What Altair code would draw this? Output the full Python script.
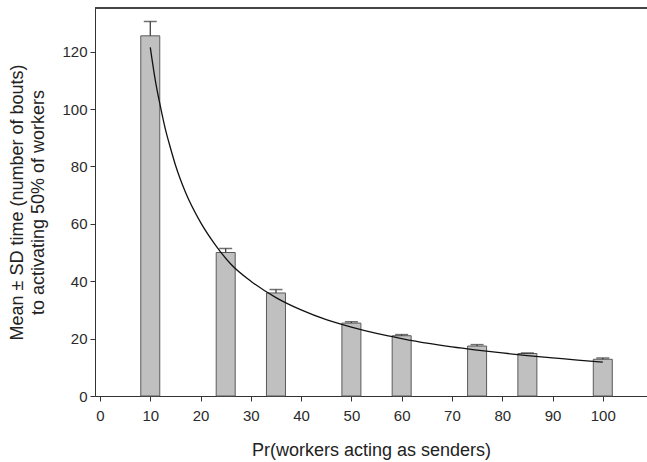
import altair as alt
import pandas as pd

# Bar data
senders = [10, 25, 35, 50, 60, 75, 85, 100]
mean_time = [125.5, 50.0, 35.9, 25.4, 21.0, 17.4, 14.8, 12.8]
sd_time = [5.0, 1.4, 1.2, 0.5, 0.4, 0.5, 0.2, 0.4]

# Fitted curve
curve_x = [10, 11, 12, 13, 14, 15, 17, 20, 23, 26, 30, 35, 40, 45, 50, 55, 60, 65, 70, 75, 80, 85, 90, 95, 100]
curve_y = [121.5, 110, 101, 93, 86.5, 80.5, 71, 60.5, 52.5, 46, 40, 34.3, 30, 26.6, 24, 21.8, 20, 18.4, 17.1, 16, 15, 14.1, 13.3, 12.5, 11.8]

bars = pd.DataFrame({"x": senders, "mean": mean_time, "sd": sd_time})
bars["top"] = bars["mean"] + bars["sd"]
curve = pd.DataFrame({"x": curve_x, "y": curve_y})

W, H = 552, 388
FONT = "Liberation Sans"

xscale = alt.Scale(domain=[0, 107.8], nice=False, zero=False)
yscale = alt.Scale(domain=[0, 135.2], nice=False)

xaxis = alt.Axis(values=list(range(0, 101, 10)), title="Pr(workers acting as senders)",
                 grid=False, tickSize=5, labelPadding=7, titlePadding=18,
                 labelFontSize=15, titleFontSize=18, labelColor="#2a2a2a",
                 titleColor="#222222", domainColor="#333333", tickColor="#333333",
                 labelFont=FONT, titleFont=FONT, titleFontWeight="normal")
yaxis = alt.Axis(values=list(range(0, 121, 20)),
                 title=["Mean ± SD time (number of bouts)", "to activating 50% of workers"],
                 grid=False, tickSize=5, labelPadding=3, titlePadding=14,
                 labelFontSize=15, titleFontSize=18, labelColor="#2a2a2a",
                 titleColor="#222222", domainColor="#333333", tickColor="#333333",
                 labelFont=FONT, titleFont=FONT, titleFontWeight="normal",
                 titleLineHeight=21)

base = alt.Chart(bars)

bar = base.mark_bar(size=19, color="#c0c0c0", stroke="#5a5a5a", strokeWidth=1).encode(
    x=alt.X("x:Q", scale=xscale, axis=xaxis),
    y=alt.Y("mean:Q", scale=yscale, axis=yaxis),
)

err = base.mark_rule(color="#333333", strokeWidth=1.2).encode(
    x="x:Q", y="mean:Q", y2="top:Q"
)

cap = base.mark_tick(orient="horizontal", size=13, thickness=1.5, color="#333333").encode(
    x="x:Q", y="top:Q"
)

line = alt.Chart(curve).mark_line(color="#111111", strokeWidth=1.3, interpolate="monotone").encode(
    x="x:Q", y="y:Q"
)

topline = alt.Chart(bars).mark_rule(color="#444444", strokeWidth=1.5).encode(
    x=alt.value(0), x2=alt.value(W), y=alt.value(0)
)

chart = alt.layer(bar, err, cap, line, topline).properties(
    width=W, height=H,
    padding={"left": 95, "top": 8, "right": 0, "bottom": 66},
    autosize=alt.AutoSizeParams(type="none"),
).configure_view(stroke=None).configure(background="white")

chart.save("out.html", embed_options={"renderer": "svg", "actions": False})
